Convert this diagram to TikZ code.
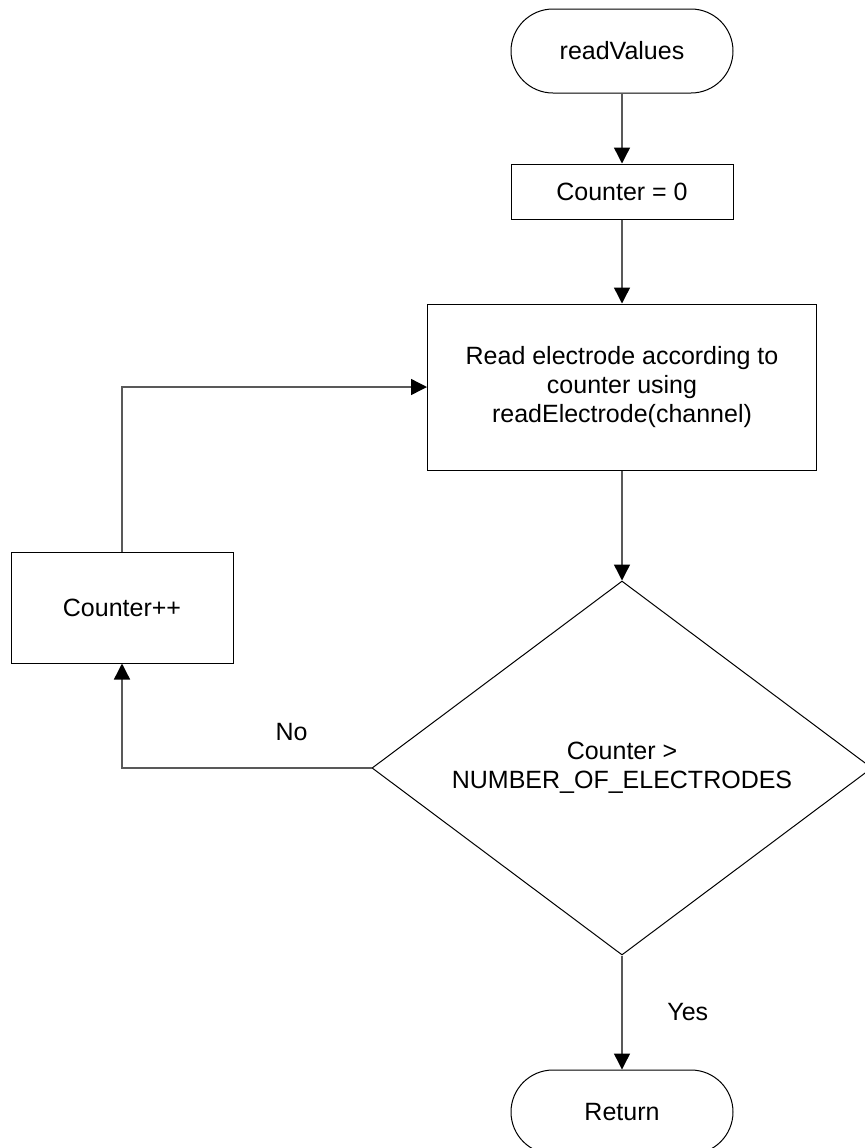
\documentclass[tikz,border=0pt]{standalone}
\usepackage{fontspec}
\setmainfont{Liberation Sans}
\usetikzlibrary{positioning,shapes.geometric,arrows.meta}

\begin{document}
\begin{tikzpicture}[
    x=0.5pt, y=-0.5pt,
    font=\fontsize{12.5}{14.7}\selectfont,
    terminal/.style={draw, rounded corners=21pt, minimum width=111pt, minimum height=42pt, line width=0.5pt},
    process/.style={draw, minimum width=111pt, line width=0.5pt, align=center},
    decision/.style={draw, diamond, shape aspect=1.34, minimum width=250pt, minimum height=187pt, inner sep=1pt, line width=0.5pt, align=center},
    flow/.style={draw=black!65, line width=0.7pt, -{Triangle[width=8pt,length=8pt,color=black]}}
]
\useasboundingbox (0,0) rectangle (864,1148);

% Noeuds
\node[terminal] (start) at (622,51) {readValues};
\node[process, minimum height=27.5pt, below=35pt of start] (init) {Counter = 0};
\node[process, minimum width=194.5pt, minimum height=83pt, below=42pt of init] (read) {Read electrode according to\\counter using\\readElectrode(channel)};
\node[decision, below=55pt of read] (check) {Counter >\\NUMBER\_OF\_ELECTRODES};
\node[process, minimum height=55.5pt] (incr) at (122,607.5) {Counter++};
\node[terminal, below=57pt of check] (stop) {Return};

% Arêtes
\draw[flow] (start) -- (init);
\draw[flow] (init) -- (read);
\draw[flow] (read) -- (check);
\draw[flow] (check) -- node[midway, right=19pt] {Yes} (stop);
\draw[flow] (check.west) -| node[pos=0.16, above=10pt] {No} (incr.south);
\draw[flow] (incr.north) |- (read.west);

\end{tikzpicture}
\end{document}
